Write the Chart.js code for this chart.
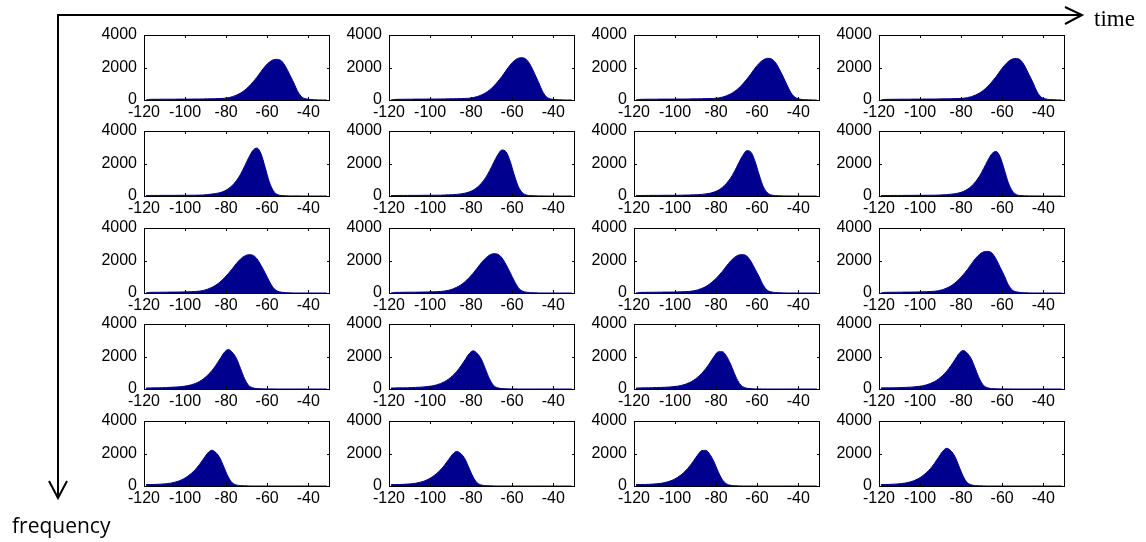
<!DOCTYPE html>
<html>
<head>
<meta charset="utf-8">
<title>Histograms over time and frequency</title>
<script src="https://cdn.jsdelivr.net/npm/chart.js@4.4.1/dist/chart.umd.min.js"></script>
<style>
    body { margin: 0; background: #fff; }
    #page { position: relative; width: 1146px; height: 542px; overflow: hidden; }
    #page canvas { position: absolute; }
</style>
</head>
<body>
<div id="page">
    <canvas id="frame" width="1146" height="542" style="left:0;top:0"></canvas>
</div>
<script>
// Histogram data: bin centres (dB) and counts per panel (row = frequency, column = time)
const binCenters = [-119, -117, -115, -113, -111, -109, -107, -105, -103, -101, -99, -97, -95, -93, -91,
    -89, -87, -85, -83, -81, -79, -77, -75, -73, -71, -69, -67, -65, -63, -61,
    -59, -57, -55, -53, -51, -49, -47, -45, -43, -41, -39, -37, -35, -33, -31];

const xTicks = [-120, -100, -80, -60, -40];
const yTicks = [0, 2000, 4000];

const r1c1 = [0, 40, 45, 45, 50, 50, 50, 50, 55, 55, 55, 55, 60, 60, 65, 70, 75, 80, 90, 105, 140, 200, 300, 425, 600,
    825, 1100, 1400, 1750, 2075, 2325, 2475, 2500, 2400, 2050, 1550, 1050, 500, 175, 70, 30, 15, 5, 0, 0];
const r1c2 = [0, 35, 45, 45, 50, 50, 55, 55, 55, 60, 60, 60, 65, 65, 70, 75, 80, 85, 95, 110, 150, 210, 310, 440, 620,
    850, 1140, 1450, 1810, 2150, 2420, 2570, 2600, 2480, 2120, 1600, 1050, 480, 160, 60, 25, 10, 5, 0, 0];
const r1c3 = [0, 40, 45, 50, 50, 50, 55, 55, 55, 55, 60, 60, 60, 65, 70, 70, 75, 85, 90, 100, 125, 175, 258, 373, 527,
    733, 990, 1290, 1620, 1970, 2265, 2470, 2565, 2525, 2290, 1850, 1340, 800, 350, 125, 50, 22, 10, 0, 0];
const r1c4 = [0, 35, 40, 45, 45, 50, 50, 50, 55, 55, 55, 60, 60, 60, 65, 70, 70, 75, 85, 92, 107, 145, 205, 305, 435,
    610, 840, 1120, 1430, 1785, 2115, 2370, 2525, 2550, 2450, 2090, 1580, 1070, 510, 180, 70, 30, 15, 5, 0];

const r2c1 = [30, 35, 35, 35, 40, 40, 40, 40, 45, 45, 45, 50, 50, 55, 65, 90, 120, 150, 205, 295, 440, 650, 945, 1330, 1830,
    2360, 2800, 2950, 2600, 1770, 885, 325, 90, 30, 10, 5, 5, 5, 0, 0, 0, 0, 0, 0, 0];
const r2c2 = [25, 30, 35, 35, 35, 40, 40, 40, 45, 45, 45, 50, 50, 60, 70, 80, 100, 130, 175, 245, 360, 535, 785, 1115, 1550,
    2060, 2535, 2830, 2725, 2145, 1305, 580, 205, 60, 25, 10, 5, 5, 0, 0, 0, 0, 0, 0, 0];
const r2c3 = [30, 30, 35, 35, 40, 40, 40, 45, 45, 45, 50, 50, 55, 60, 70, 80, 100, 130, 170, 240, 355, 530, 775, 1100, 1530,
    2030, 2500, 2790, 2690, 2120, 1290, 575, 200, 60, 25, 10, 5, 5, 0, 0, 0, 0, 0, 0, 0];
const r2c4 = [25, 30, 30, 35, 35, 35, 40, 40, 40, 45, 45, 45, 50, 50, 55, 70, 82, 110, 137, 192, 274, 411, 603, 877, 1233,
    1699, 2192, 2603, 2740, 2411, 1644, 822, 301, 82, 27, 10, 5, 5, 5, 0, 0, 0, 0, 0, 0];

const r3c1 = [0, 40, 45, 45, 50, 50, 55, 55, 60, 65, 70, 80, 92, 116, 161, 237, 344, 486, 675, 912, 1185, 1493, 1813, 2086, 2275,
    2358, 2323, 2109, 1706, 1232, 735, 320, 118, 47, 21, 9, 0, 0, 0, 0, 0, 0, 0, 0, 0];
const r3c2 = [0, 35, 40, 45, 50, 50, 50, 55, 60, 65, 70, 80, 95, 120, 165, 245, 355, 500, 695, 940, 1220, 1535, 1860, 2140, 2335,
    2420, 2385, 2165, 1750, 1265, 755, 330, 120, 50, 20, 10, 0, 0, 0, 0, 0, 0, 0, 0, 0];
const r3c3 = [0, 35, 40, 45, 45, 50, 50, 55, 55, 60, 65, 75, 85, 99, 132, 189, 283, 401, 566, 779, 1038, 1322, 1652, 1959, 2195,
    2336, 2360, 2266, 1935, 1463, 991, 472, 165, 66, 28, 14, 5, 0, 0, 0, 0, 0, 0, 0, 0];
const r3c4 = [0, 40, 45, 45, 50, 50, 55, 55, 60, 65, 70, 80, 92, 107, 143, 205, 307, 435, 614, 845, 1126, 1434, 1792, 2125, 2381,
    2534, 2560, 2458, 2099, 1587, 1075, 512, 179, 72, 30, 15, 5, 0, 0, 0, 0, 0, 0, 0, 0];

const r4c1 = [60, 65, 70, 75, 80, 90, 105, 117, 134, 158, 194, 255, 340, 462, 632, 850, 1118, 1458, 1847, 2236, 2430, 2260, 1895, 1264, 632,
    219, 73, 24, 12, 5, 5, 5, 0, 0, 0, 0, 0, 0, 0, 0, 0, 0, 0, 0, 0];
const r4c2 = [60, 65, 70, 70, 75, 85, 100, 113, 130, 153, 188, 247, 329, 447, 611, 822, 1081, 1410, 1786, 2162, 2350, 2185, 1833, 1222, 611,
    212, 70, 24, 12, 5, 5, 0, 0, 0, 0, 0, 0, 0, 0, 0, 0, 0, 0, 0, 0];
const r4c3 = [60, 65, 70, 75, 80, 90, 98, 107, 121, 143, 171, 219, 290, 393, 536, 726, 964, 1261, 1618, 1999, 2285, 2297, 2035, 1547, 928,
    417, 143, 48, 19, 5, 5, 0, 0, 0, 0, 0, 0, 0, 0, 0, 0, 0, 0, 0, 0];
const r4c4 = [65, 70, 70, 75, 80, 90, 100, 112, 130, 155, 190, 250, 335, 455, 620, 835, 1100, 1430, 1810, 2190, 2370, 2205, 1850, 1232, 616,
    213, 71, 24, 12, 5, 5, 5, 0, 0, 0, 0, 0, 0, 0, 0, 0, 0, 0, 0, 0];

const r5c1 = [88, 88, 95, 106, 121, 143, 176, 231, 308, 418, 572, 770, 1012, 1320, 1672, 2024, 2200, 2060, 1716, 1144, 572, 198, 66, 25, 11,
    5, 0, 0, 0, 0, 0, 0, 0, 0, 0, 0, 0, 0, 0, 0, 0, 0, 0, 0, 0];
const r5c2 = [85, 85, 92, 103, 117, 138, 170, 224, 298, 405, 554, 745, 980, 1278, 1618, 1959, 2130, 1994, 1661, 1107, 554, 192, 64, 24, 11,
    5, 0, 0, 0, 0, 0, 0, 0, 0, 0, 0, 0, 0, 0, 0, 0, 0, 0, 0, 0];
const r5c3 = [91, 91, 93, 102, 116, 136, 163, 209, 277, 375, 511, 692, 919, 1203, 1544, 1907, 2179, 2191, 1941, 1476, 885, 397, 136, 45, 18,
    7, 0, 0, 0, 0, 0, 0, 0, 0, 0, 0, 0, 0, 0, 0, 0, 0, 0, 0, 0];
const r5c4 = [93, 93, 100, 112, 128, 151, 186, 244, 325, 441, 603, 812, 1067, 1392, 1763, 2134, 2320, 2172, 1810, 1206, 603, 209, 70, 26, 12,
    5, 0, 0, 0, 0, 0, 0, 0, 0, 0, 0, 0, 0, 0, 0, 0, 0, 0, 0, 0];

const panels = [
    [r1c1, r1c2, r1c3, r1c4],
    [r2c1, r2c2, r2c3, r2c4],
    [r3c1, r3c2, r3c3, r3c4],
    [r4c1, r4c2, r4c3, r4c4],
    [r5c1, r5c2, r5c3, r5c4]
];

// Layout of the small axes (plot area positions on the page)
const colLeft = [144, 389, 634, 879];
const rowTop = [35, 131, 228, 324, 421];
const PLOT_W = 186;
const PLOT_H = 65;
const AXIS_W = 50;   // room for y tick labels
const AXIS_H = 22;   // room for x tick labels
const PAD_TOP = 10;
const PAD_RIGHT = 10;
const X_MAX = -29.4;
const BLUE = '#00008F';
const TICK_FONT = { family: "'Liberation Sans', Arial, sans-serif", size: 16 };

// Matlab-style box with short inward ticks on all four sides
const boxPlugin = {
    id: 'matlabBox',
    afterDatasetsDraw(chart) {
        const { ctx, chartArea: a, scales } = chart;
        const len = 3;
        ctx.save();
        ctx.strokeStyle = '#000';
        ctx.lineWidth = 1;
        ctx.strokeRect(a.left + 0.5, a.top + 0.5, a.right - a.left - 1, a.bottom - a.top);
        ctx.beginPath();
        xTicks.forEach(v => {
            const px = Math.round(scales.x.getPixelForValue(v)) + 0.5;
            ctx.moveTo(px, a.top); ctx.lineTo(px, a.top + len);
            ctx.moveTo(px, a.bottom); ctx.lineTo(px, a.bottom - len);
        });
        yTicks.forEach(v => {
            const py = Math.round(scales.y.getPixelForValue(v)) + 0.5;
            ctx.moveTo(a.left, py); ctx.lineTo(a.left + len, py);
            ctx.moveTo(a.right, py); ctx.lineTo(a.right - len, py);
        });
        ctx.stroke();
        ctx.restore();
    }
};

function makePanel(values, left, top) {
    const canvas = document.createElement('canvas');
    canvas.width = AXIS_W + PLOT_W + PAD_RIGHT;
    canvas.height = PAD_TOP + PLOT_H + AXIS_H;
    canvas.style.left = (left - AXIS_W) + 'px';
    canvas.style.top = (top - PAD_TOP) + 'px';
    document.getElementById('page').appendChild(canvas);

    new Chart(canvas, {
        type: 'line',
        data: {
            datasets: [{
                data: binCenters.map((x, i) => ({ x: x, y: values[i] })),
                fill: 'origin',
                backgroundColor: BLUE,
                borderColor: BLUE,
                borderWidth: 1,
                pointRadius: 0,
                cubicInterpolationMode: 'monotone'
            }]
        },
        options: {
            responsive: false,
            animation: false,
            events: [],
            layout: { padding: { top: PAD_TOP, right: PAD_RIGHT, left: 0, bottom: 0 } },
            plugins: { legend: { display: false }, tooltip: { enabled: false } },
            scales: {
                x: {
                    type: 'linear',
                    min: -120,
                    max: X_MAX,
                    grid: { display: false, drawTicks: false },
                    border: { display: false },
                    ticks: { font: TICK_FONT, color: '#000', padding: 3, maxRotation: 0, autoSkip: false, callback: v => String(v) },
                    afterBuildTicks: s => { s.ticks = xTicks.map(v => ({ value: v })); },
                    afterFit: s => { s.height = AXIS_H; s.paddingLeft = 0; s.paddingRight = 0; }
                },
                y: {
                    type: 'linear',
                    min: 0,
                    max: 4000,
                    grid: { display: false, drawTicks: false },
                    border: { display: false },
                    ticks: { font: TICK_FONT, color: '#000', padding: 7, callback: v => String(v) },
                    afterBuildTicks: s => { s.ticks = yTicks.map(v => ({ value: v })); },
                    afterFit: s => { s.width = AXIS_W; s.paddingTop = 0; s.paddingBottom = 0; }
                }
            }
        },
        plugins: [boxPlugin]
    });
}

function drawFrame() {
    const ctx = document.getElementById('frame').getContext('2d');
    ctx.strokeStyle = '#000';
    ctx.lineWidth = 2;

    // time arrow
    ctx.beginPath();
    ctx.moveTo(57, 15); ctx.lineTo(1082, 15);
    ctx.moveTo(1065, 7); ctx.lineTo(1082, 15); ctx.lineTo(1065, 24);
    ctx.stroke();

    // frequency arrow
    ctx.beginPath();
    ctx.moveTo(58, 14); ctx.lineTo(58, 498);
    ctx.moveTo(49, 481); ctx.lineTo(58, 498); ctx.lineTo(67, 481);
    ctx.stroke();

    ctx.fillStyle = '#000';
    ctx.font = "23px 'Liberation Serif', serif";
    ctx.fillText('time', 1094, 26);
    ctx.font = "21px 'Open Sans', sans-serif";
    ctx.fillText('frequency', 12, 533);
}

document.addEventListener('DOMContentLoaded', () => {
    drawFrame();
    panels.forEach((row, r) => {
        row.forEach((values, c) => makePanel(values, colLeft[c], rowTop[r]));
    });
});
</script>
</body>
</html>
